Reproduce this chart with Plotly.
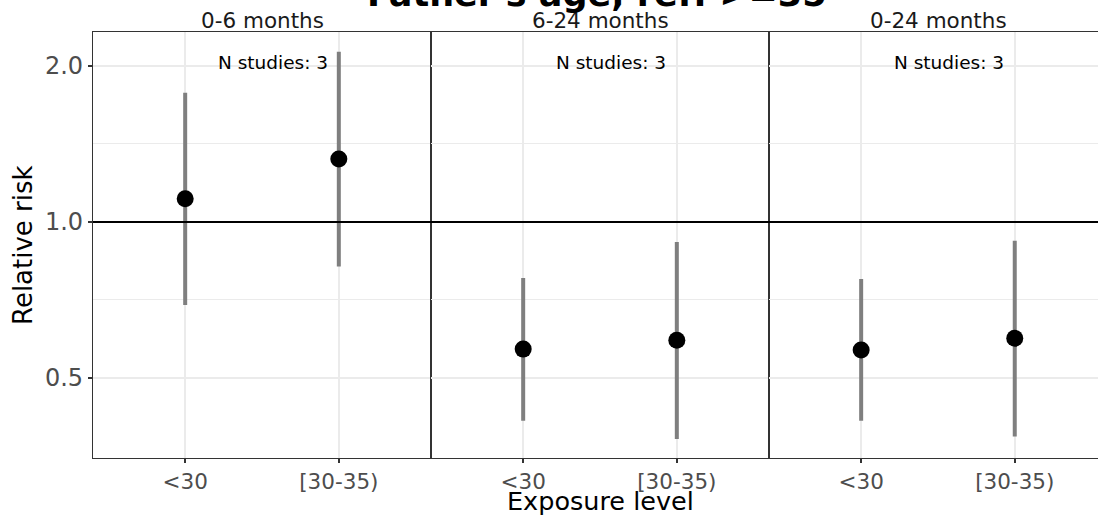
import plotly.graph_objects as go
import math

# ---- data ----
periods = ["0-6 months", "6-24 months", "0-24 months"]
categories = ["<30", "[30-35)"]
rr_0_6 = [1.108, 1.323]
lo_0_6 = [0.691, 0.820]
hi_0_6 = [1.776, 2.131]
rr_6_24 = [0.568, 0.591]
lo_6_24 = [0.413, 0.381]
hi_6_24 = [0.779, 0.915]
rr_0_24 = [0.566, 0.596]
lo_0_24 = [0.413, 0.385]
hi_0_24 = [0.776, 0.920]
n_studies = [3, 3, 3]
y_tickvals = [0.5, 1.0, 2.0]
y_ticktext = ["0.5", "1.0", "2.0"]
y_minor = [0.7071, 1.4142]
title_text = "Father's age, ref: >=35"

series = [(rr_0_6, lo_0_6, hi_0_6), (rr_6_24, lo_6_24, hi_6_24), (rr_0_24, lo_0_24, hi_0_24)]

W, H = 1098, 519
FONT = "DejaVu Sans"
BORDER = "#333333"
GRID = "#EBEBEB"

x_domains = [[93 / W, 431 / W], [431 / W, 769 / W], [769 / W, 1.0]]
x_ranges = [[-0.6, 1.6], [-0.6, 1.6], [-0.6, 1.542]]
y_domain = [61 / H, 487 / H]
y_range = [math.log10(0.350), math.log10(2.327)]

fig = go.Figure()
for i, (rr, lo, hi) in enumerate(series):
    xa = "x" if i == 0 else f"x{i+1}"
    ya = "y" if i == 0 else f"y{i+1}"
    fig.add_trace(go.Scatter(
        x=categories, y=rr, xaxis=xa, yaxis=ya, mode="markers",
        marker=dict(color="black", size=17),
        error_y=dict(type="data", symmetric=False,
                     array=[h - r for h, r in zip(hi, rr)],
                     arrayminus=[r - l for r, l in zip(rr, lo)],
                     color="#7F7F7F", thickness=4, width=0),
        showlegend=False, hoverinfo="skip"))

layout = dict(width=W, height=H, margin=dict(l=0, r=0, t=0, b=0),
              plot_bgcolor="white", paper_bgcolor="white",
              font=dict(family=FONT), showlegend=False)

for i in range(3):
    sfx = "" if i == 0 else str(i + 1)
    layout["xaxis" + sfx] = dict(
        domain=x_domains[i], range=x_ranges[i], type="category",
        categoryorder="array", categoryarray=categories,
        anchor="y" + sfx, showline=True, linecolor=BORDER, linewidth=1.2, mirror=True,
        ticks="outside", ticklen=4, tickcolor=BORDER, tickwidth=1.5,
        showgrid=True, gridcolor=GRID, gridwidth=1.5, zeroline=False,
        tickfont=dict(size=21.5, color="#4D4D4D", family=FONT), automargin=False,
        fixedrange=True)
    layout["yaxis" + sfx] = dict(
        domain=y_domain, range=y_range, type="log", anchor="x" + sfx,
        tickvals=y_tickvals, ticktext=y_ticktext,
        showticklabels=(i == 0), ticks="outside" if i == 0 else "",
        ticklen=4, tickcolor=BORDER, tickwidth=1.5,
        showline=True, linecolor=BORDER, linewidth=1.2, mirror=(i < 2),
        showgrid=True, gridcolor=GRID, gridwidth=1.5, zeroline=False,
        minor=dict(tickvals=y_minor, showgrid=True, gridcolor=GRID, gridwidth=1.2, ticks=""),
        tickfont=dict(size=24, color="#4D4D4D", family=FONT), automargin=False,
        fixedrange=True)
fig.update_layout(**layout)

shapes = []
annotations = []
for i in range(3):
    sfx = "" if i == 0 else str(i + 1)
    shapes.append(dict(type="line", xref=f"x{sfx} domain", yref="y" + sfx,
                       x0=0, x1=1, y0=1.0, y1=1.0,
                       line=dict(color="black", width=2)))
    # strip label
    annotations.append(dict(text=periods[i], xref=f"x{sfx} domain", yref="paper",
                            x=0.5 if i < 2 else 0.5 * 338 / 329, y=(H - 20.5) / H,
                            xanchor="center", yanchor="middle", showarrow=False,
                            font=dict(size=21.5, color="#1A1A1A", family=FONT)))
    # N studies
    annotations.append(dict(text=f"N studies: {n_studies[i]}", xref="x" + sfx, yref="y" + sfx,
                            x=0.57, y=math.log10(2.03), xanchor="center", yanchor="middle",
                            showarrow=False, font=dict(size=18.5, color="black", family=FONT)))

annotations.append(dict(text="<b>" + title_text.replace(">", "&gt;") + "</b>",
                        xref="paper", yref="paper", x=597 / W, y=(H - 16) / H,
                        xanchor="center", yanchor="bottom", showarrow=False,
                        font=dict(size=35, color="black", family=FONT)))
annotations.append(dict(text="Relative risk", xref="paper", yref="paper",
                        x=23 / W, y=(H - 245) / H, xanchor="center", yanchor="middle",
                        textangle=-90, showarrow=False,
                        font=dict(size=26, color="black", family=FONT)))
annotations.append(dict(text="Exposure level", xref="paper", yref="paper",
                        x=600 / W, y=(H - 501) / H, xanchor="center", yanchor="middle",
                        showarrow=False, font=dict(size=25.5, color="black", family=FONT)))
fig.update_layout(shapes=shapes, annotations=annotations)

fig.write_html("out.html", config={"displayModeBar": False},
               post_script="document.body.style.margin='0px';document.body.style.overflow='hidden';")
